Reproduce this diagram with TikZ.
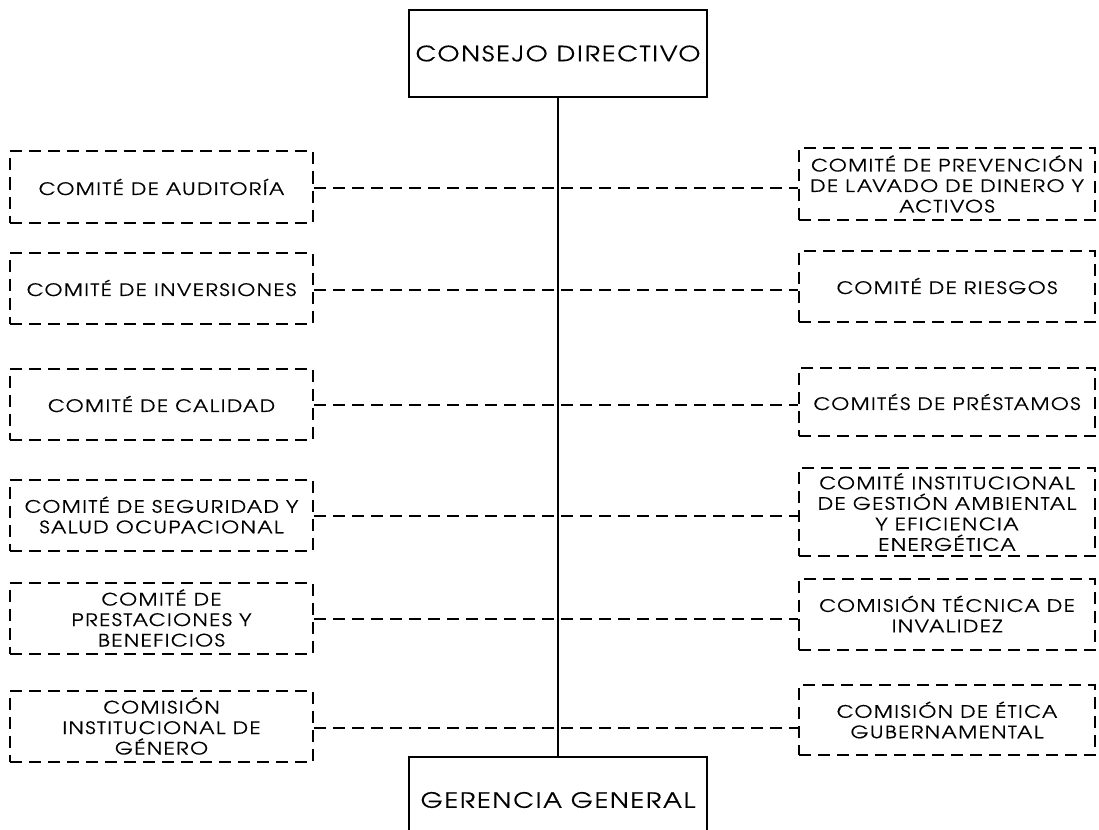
\documentclass[tikz,border=0pt]{standalone}
\usepackage{fontspec}
\setmainfont{texgyreadventor-regular.otf}[FakeStretch=1.2,LetterSpace=9,FakeBold=0.4]
\begin{document}
\begin{tikzpicture}[x=1pt,y=-1pt,
  solidbox/.style={draw=black,line width=2pt,minimum width=298pt,minimum height=87pt,inner sep=0pt,font=\fontsize{21}{26}\selectfont},
  dashbox/.style={draw=black,line width=2pt,dash pattern=on 12pt off 7pt,inner sep=0pt,align=center,font=\fontsize{17.1}{20.5}\selectfont},
  lbox/.style={dashbox,minimum width=303pt,minimum height=71pt},
  rbox/.style={dashbox,minimum width=296pt,minimum height=71pt},
  conn/.style={draw=black,line width=2pt,dash pattern=on 12pt off 7pt},
  trunk/.style={draw=black,line width=2pt}]
\useasboundingbox (0,0) rectangle (1099,829);
\fill[white] (0,0) rectangle (1099,829);
\node[solidbox] (cd) at (558,53.5) {CONSEJO DIRECTIVO};
\node[solidbox] (gg) at (558,800) {GERENCIA GENERAL};
\node[lbox] (l1) at (161.5,187) {COMITÉ DE AUDITORÍA};
\node[lbox] (l2) at (161.5,288) {COMITÉ DE INVERSIONES};
\node[lbox] (l3) at (161.5,404) {COMITÉ DE CALIDAD};
\node[lbox] (l4) at (161.5,515) {COMITÉ DE SEGURIDAD Y\\SALUD OCUPACIONAL};
\node[lbox] (l5) at (161.5,618) {COMITÉ DE\\PRESTACIONES Y\\BENEFICIOS};
\node[lbox] (l6) at (161.5,726) {COMISIÓN\\INSTITUCIONAL DE\\GÉNERO};
\node[rbox] (r1) at (947,184) {COMITÉ DE PREVENCIÓN\\DE LAVADO DE DINERO Y\\ACTIVOS};
\node[rbox] (r2) at (947,286) {COMITÉ DE RIESGOS};
\node[rbox,minimum height=68pt] (r3) at (947,402) {COMITÉS DE PRÉSTAMOS};
\node[rbox,minimum height=88pt] (r4) at (947,512) {COMITÉ INSTITUCIONAL\\DE GESTIÓN AMBIENTAL\\Y EFICIENCIA\\ENERGÉTICA};
\node[rbox] (r5) at (947,614) {COMISIÓN TÉCNICA DE\\INVALIDEZ};
\node[rbox,minimum height=70pt] (r6) at (947,720) {COMISIÓN DE ÉTICA\\GUBERNAMENTAL};
\draw[trunk] (cd.south) -- (gg.north);
\foreach \i/\y in {1/188,2/290,3/405,4/516,5/619,6/728}{
  \draw[conn] (l\i.east |- 0,\y) -- (r\i.west |- 0,\y);
}
\end{tikzpicture}
\end{document}
